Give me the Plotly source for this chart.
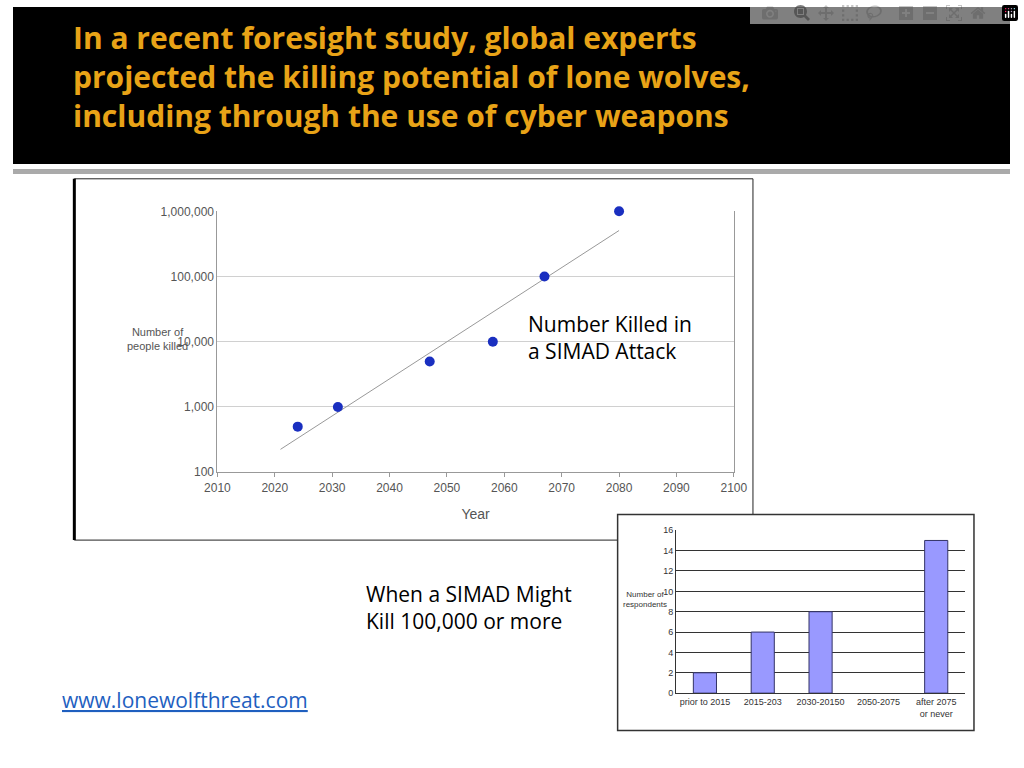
import numpy as np
import plotly.graph_objects as go

years = [2024, 2031, 2047, 2058, 2067, 2080]
killed = [500, 1000, 5000, 10000, 100000, 1000000]
trend_years = [2021, 2080]

periods = ["prior to 2015", "2015-203", "2030-20150", "2050-2075", "after 2075<br>or never"]
respondents = [2, 6, 8, 0, 15]

ytick_vals = [100, 1000, 10000, 100000, 1000000]
ytick_text = ["100", "1,000", "10,000", "100,000", "1,000,000"]

# log-linear trend through the points
slope, icpt = np.polyfit(years, np.log10(killed), 1)
trend_vals = [10 ** (slope * y + icpt) for y in trend_years]

fig = go.Figure()
fig.add_trace(go.Scatter(x=trend_years, y=trend_vals, mode="lines",
                         line=dict(color="#999999", width=1), xaxis="x", yaxis="y"))
fig.add_trace(go.Scatter(x=years, y=killed, mode="markers", cliponaxis=False,
                         marker=dict(color="#1a2fc0", size=10), xaxis="x", yaxis="y"))
fig.add_trace(go.Bar(x=periods, y=respondents,
                     marker=dict(color="#9999ff", line=dict(color="#333366", width=[1, 1, 1, 0, 1])),
                     width=0.4, xaxis="x2", yaxis="y2"))

tick_font = dict(family="Liberation Sans", size=12, color="#555555")
fig.update_layout(
    width=1024, height=768, margin=dict(l=0, r=0, t=0, b=0),
    paper_bgcolor="white", plot_bgcolor="white", showlegend=False,
    xaxis=dict(domain=[0.205, 0.723], range=[2010, 2100], dtick=10, showgrid=False,
               ticks="outside", ticklen=4, tickcolor="#999", showline=True, linecolor="#999",
               tickfont=tick_font, anchor="y",
               title=dict(text="Year", font=dict(family="Liberation Sans", size=14, color="#555"))),
    yaxis=dict(domain=[0.383, 0.729], type="log", range=[2, 6], tickvals=ytick_vals, ticktext=ytick_text,
               gridcolor="#d0d0d0", showline=True, linecolor="#999", tickfont=tick_font, anchor="x",
               mirror=True),
    xaxis2=dict(domain=[0.665, 0.955], showgrid=False, showline=True, linecolor="#333",
                tickfont=dict(family="Liberation Sans", size=9, color="#333"), anchor="y2"),
    yaxis2=dict(domain=[0.090, 0.306], range=[0, 16], dtick=2, gridcolor="#333", gridwidth=1,
                showline=True, linecolor="#333", tickfont=dict(family="Liberation Sans", size=9, color="#333"),
                anchor="x2"),
    shapes=[
        dict(type="rect", xref="paper", yref="paper", x0=0, x1=1, y0=1 - 160 / 768, y1=1,
             fillcolor="black", line=dict(width=0), layer="below"),
        dict(type="rect", xref="paper", yref="paper", x0=0, x1=1, y0=1 - 170 / 768, y1=1 - 165 / 768,
             fillcolor="#aaaaaa", line=dict(width=0)),
        dict(type="rect", xref="paper", yref="paper", x0=63 / 1024, x1=760 / 1024,
             y0=1 - 543 / 768, y1=1 - 175 / 768, line=dict(color="#222", width=1), layer="below"),
        dict(type="line", xref="paper", yref="paper", x0=63 / 1024, x1=63 / 1024,
             y0=1 - 543 / 768, y1=1 - 175 / 768, line=dict(color="black", width=3)),
        dict(type="rect", xref="paper", yref="paper", x0=621 / 1024, x1=987 / 1024,
             y0=1 - 737 / 768, y1=1 - 517 / 768, line=dict(color="#333", width=1.5),
             fillcolor="white", layer="below"),
    ],
    annotations=[
        dict(text="In a recent foresight study, global experts<br>projected the killing potential of lone wolves,<br>including through the use of cyber weapons",
             xref="paper", yref="paper", x=60 / 1024, y=1 - 8 / 768, xanchor="left", yanchor="top",
             align="left", showarrow=False,
             font=dict(family="Open Sans", size=30, color="#e8a317", weight="bold")),
        dict(text="Number of<br>people killed", xref="paper", yref="paper", x=115 / 1024, y=1 - 338 / 768,
             showarrow=False, font=dict(family="Liberation Sans", size=11, color="#555")),
        dict(text="Number Killed in<br>a SIMAD Attack", xref="paper", yref="paper", x=527 / 1024,
             y=1 - 337 / 768, xanchor="left", align="left", showarrow=False,
             font=dict(family="Open Sans", size=21, color="black")),
        dict(text="When a SIMAD Might<br>Kill 100,000 or more", xref="paper", yref="paper", x=360 / 1024,
             y=1 - 642 / 768, xanchor="left", align="left", showarrow=False,
             font=dict(family="Open Sans", size=21, color="black")),
        dict(text="Number of<br>respondents", xref="paper", yref="paper", x=649 / 1024, y=1 - 615 / 768,
             showarrow=False, font=dict(family="Liberation Sans", size=8, color="#333")),
        dict(text="<u>www.lonewolfthreat.com</u>", xref="paper", yref="paper", x=48 / 1024, y=1 - 722 / 768,
             xanchor="left", showarrow=False, font=dict(family="Open Sans", size=21, color="#1f5fbf")),
    ],
)

fig.write_html("out.html", post_script="document.body.style.margin='0';document.body.style.overflow='hidden';")
